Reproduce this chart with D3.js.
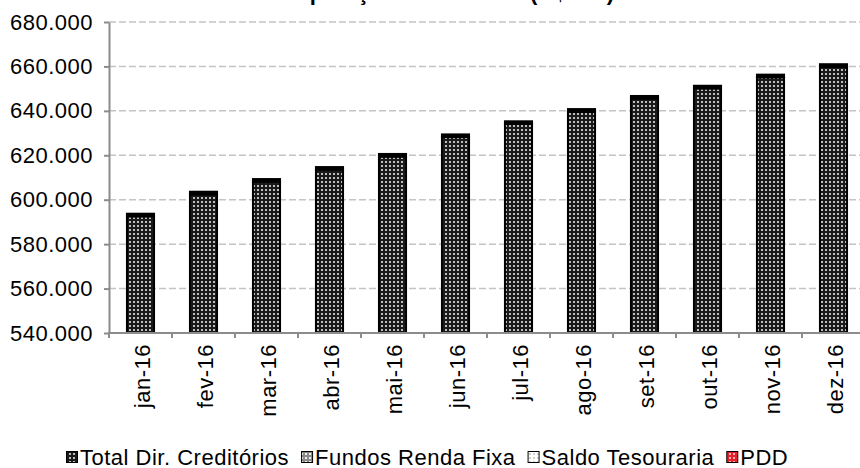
<!DOCTYPE html>
<html lang="pt">
<head>
<meta charset="utf-8">
<style>
body { margin: 0; background: #fff; }
text { font-family: "Liberation Sans", Arial, sans-serif; fill: #000; letter-spacing: 0.5px; }
.grid line { stroke: #c4c4c4; stroke-width: 1.5; stroke-dasharray: 7,3; }
.axis path, .axis line { stroke: #8c8c8c; stroke-width: 2; }
</style>
</head>
<body>
<svg width="860" height="468"></svg>
<script src="https://cdn.jsdelivr.net/npm/d3@7"></script>
<script>
// Composição da Carteira (R$ mil)
var months = ["jan-16","fev-16","mar-16","abr-16","mai-16","jun-16","jul-16","ago-16","set-16","out-16","nov-16","dez-16"];
var totalDirCreditorios = [592500, 602400, 608100, 613500, 619400, 628200, 634100, 639600, 645500, 650100, 655100, 659800];
var fundosRendaFixa = [1200, 1200, 1200, 1200, 1200, 1200, 1200, 1200, 1200, 1200, 1200, 1200];
var seriesNames = ["Total Dir. Creditórios", "Fundos Renda Fixa", "Saldo Tesouraria", "PDD"];
var yTicks = [540000, 560000, 580000, 600000, 620000, 640000, 660000, 680000];

var br = d3.formatLocale({decimal: ",", thousands: ".", grouping: [3], currency: ["R$", ""]});
var fmt = br.format(",.0f");

var svg = d3.select("svg");
var mLeft = 109, mRight = 865, mTop = 22, mBottom = 333;

// patterns
var defs = svg.append("defs");
function dots(id, bg, dot) {
  var p = defs.append("pattern").attr("id", id)
    .attr("width", 4).attr("height", 4).attr("patternUnits", "userSpaceOnUse");
  p.append("rect").attr("width", 4).attr("height", 4).attr("fill", bg);
  p.append("rect").attr("x", 1).attr("y", 1).attr("width", 2).attr("height", 2).attr("fill", dot);
}
dots("pTotal", "#1a1a1a", "#bdbdbd");
dots("pFundos", "#8a8a8a", "#f0f0f0");
dots("pSaldo", "#ffffff", "#d0d0d0");
dots("pPdd", "#e8202a", "#ffb0b0");
var fills = ["url(#pTotal)", "url(#pFundos)", "url(#pSaldo)", "url(#pPdd)"];

var x = d3.scaleBand().domain(months).range([mLeft, mRight]).paddingInner(0.57).paddingOuter(0.285);
var xb = d3.scaleBand().domain(months).range([mLeft, mRight]);
var y = d3.scaleLinear().domain([540000, 680000]).range([mBottom, mTop]);

// grid
svg.append("g").attr("class", "grid")
  .selectAll("line").data(yTicks.slice(1)).join("line")
  .attr("x1", mLeft).attr("x2", 860)
  .attr("y1", d => y(d)).attr("y2", d => y(d));

// bars
var stacked = months.map((m, i) => ({m: m, c: totalDirCreditorios[i], f: fundosRendaFixa[i]}));
var g = svg.append("g");
g.selectAll("rect.c").data(stacked).join("rect").attr("class", "c")
  .attr("x", d => x(d.m)).attr("width", x.bandwidth())
  .attr("y", d => y(d.c)).attr("height", d => y(540000) - y(d.c))
  .attr("fill", fills[0]).attr("stroke", "#000").attr("stroke-width", 2);
g.selectAll("rect.f").data(stacked).join("rect").attr("class", "f")
  .attr("x", d => x(d.m)).attr("width", x.bandwidth())
  .attr("y", d => y(d.c + d.f)).attr("height", d => y(d.c) - y(d.c + d.f))
  .attr("fill", "#000").attr("stroke", "#000").attr("stroke-width", 2);

// y axis
var ya = svg.append("g").attr("class", "axis")
  .attr("transform", "translate(" + mLeft + ",0)")
  .call(d3.axisLeft(y).tickValues(yTicks).tickFormat(fmt).tickSize(5).tickSizeOuter(0));
ya.selectAll("text").attr("x", -16).style("font-size", "22px").attr("fill", "#000");

// x axis
var xa = svg.append("g").attr("class", "axis")
  .attr("transform", "translate(0," + mBottom + ")");
xa.append("line").attr("x1", mLeft - 1).attr("x2", 860).attr("y1", 0).attr("y2", 0);
xa.selectAll("line.t").data(months).join("line").attr("class", "t")
  .attr("x1", d => xb(d)).attr("x2", d => xb(d)).attr("y1", 0).attr("y2", 5);
xa.selectAll("text").data(months).join("text")
  .attr("transform", d => "translate(" + (x(d) + x.bandwidth() / 2 + 2) + ",11) rotate(-90)")
  .attr("text-anchor", "end").attr("dy", "0.35em")
  .style("font-size", "22px").text(d => d);

// title
svg.append("text").attr("x", 437).attr("y", 0).attr("text-anchor", "middle")
  .style("font-size", "22px").style("font-weight", "bold")
  .text("Composição da Carteira (R$ mil)");

// legend
var lg = svg.append("g");
var lx = 66;
seriesNames.forEach(function(name, i) {
  lg.append("rect").attr("x", lx + 0.5).attr("y", 451.5).attr("width", 11).attr("height", 11)
    .attr("fill", fills[i]).attr("stroke", "#000").attr("stroke-width", 1);
  var t = lg.append("text").attr("x", lx + 14).attr("y", 465).style("font-size", "22px").text(name);
  lx += 14 + t.node().getComputedTextLength() + 12;
});
</script>
</body>
</html>
